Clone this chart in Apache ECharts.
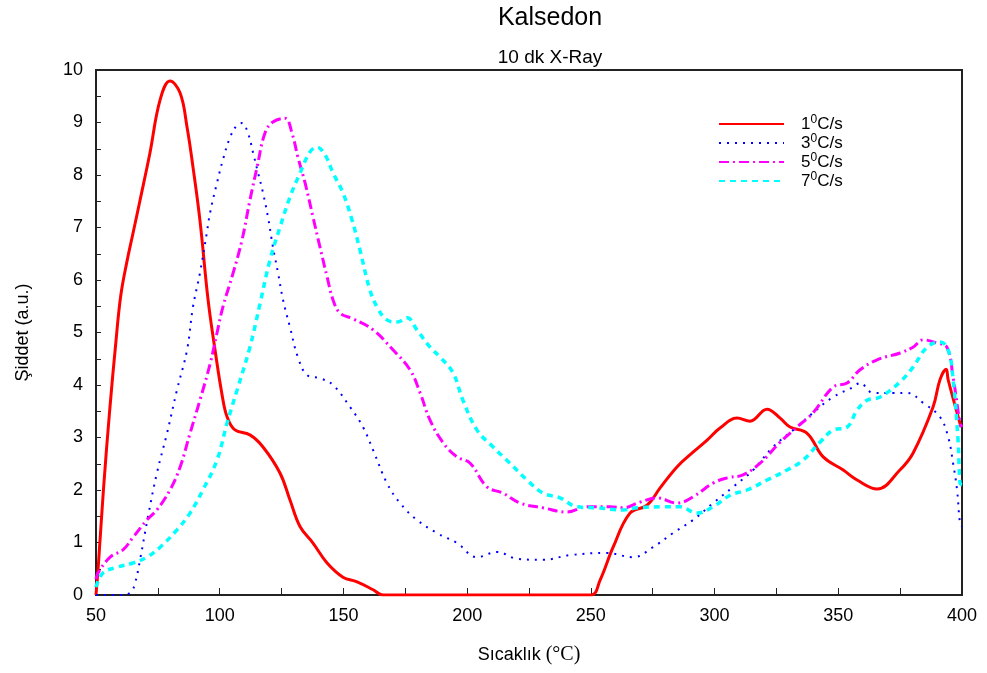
<!DOCTYPE html>
<html><head><meta charset="utf-8">
<script src="https://cdn.jsdelivr.net/npm/echarts@6/dist/echarts.min.js"></script>
<style>html,body{margin:0;padding:0;background:#fff}#c{width:987px;height:673px}</style>
</head><body><div id="c"></div>
<script>
const xTicks = [50,100,150,200,250,300,350,400];
const yTicks = [0,1,2,3,4,5,6,7,8,9,10];
const seriesNames = ['1°C/s','3°C/s','5°C/s','7°C/s'];

const T1 = [50,51,53,55.5,58,60,62.5,65,67.8,71.8,75.9,79.9,84,86.8,89.2,92,95.3,98.1,101,103,106,112.2,117.5,124.4,128.4,132.5,137.7,143.4,149.8,155.5,162,166,200,250,253.7,259,265.8,272.7,278,284.8,291.3,297,302.2,309.1,314.3,321.2,326.5,330.5,337.4,343.9,352,357.6,365.7,374.9,380.2,388.3,391.1,393.6,394.4,399.6];
const V1 = [0,0.6,2.0,3.5,4.8,5.7,6.35,6.9,7.52,8.42,9.43,9.79,9.56,8.91,8.15,7.14,5.62,4.67,3.8,3.39,3.15,3.05,2.82,2.32,1.81,1.30,0.99,0.61,0.34,0.25,0.1,0.0,0,0,0.28,0.91,1.56,1.71,2.04,2.44,2.72,2.95,3.18,3.37,3.31,3.54,3.37,3.2,3.08,2.63,2.38,2.19,2.02,2.38,2.7,3.58,4.1,4.3,4.1,3.2];

const T2 = [50,60,64,65.8,67.8,71,74.6,78.7,82.7,86.8,89.2,92,94.8,96.1,98.9,101.3,104.2,107,109,111.4,113.5,115.5,117.5,119.5,121.5,123.6,125.6,128.4,131.6,135.3,140.5,145.8,152.7,157.9,162,167.6,172.9,179.7,187.8,195.9,204,212.1,220.2,230.7,241.6,256.5,267,275.1,283.2,291.3,299.4,307.5,315.6,323.6,331.7,339.8,347.9,356,358.8,364,372.2,377.8,384.3,391.1,394.4,396.4,398,399.2,400];
const V2 = [0,0,0.05,0.23,0.67,1.49,2.32,3.08,3.9,4.67,5.49,6.13,6.9,7.28,7.85,8.29,8.72,8.95,8.99,8.8,8.42,8.04,7.66,7.2,6.63,6.13,5.62,5.1,4.53,4.19,4.13,4.0,3.58,3.2,2.76,2.13,1.75,1.43,1.18,0.99,0.72,0.82,0.69,0.67,0.76,0.8,0.72,0.91,1.18,1.43,1.75,2.06,2.38,2.82,3.14,3.47,3.77,3.96,4.04,3.85,3.85,3.85,3.66,3.39,3.01,2.51,2.0,1.37,1.3];

const T3 = [50,50.8,55.7,60.9,65,70.6,74.6,79.9,84,88,92,96.1,98.9,101.3,105.4,109,112.2,115.1,118.3,121.5,126.4,129.2,131.6,134.5,137.7,140.5,143.4,145.8,148.6,153.9,162,170,176.9,181,185,190.3,195.9,201.2,208,214.5,221.4,230.7,240.4,248.5,257.8,263,269.9,276.8,284.8,291.3,299.4,305.1,311.5,318.4,326.5,333.3,339.8,347.9,353.6,358.8,365.7,375,380.2,384.3,389.9,393.9,396.4,399.2,400];
const V3 = [0.3,0.42,0.72,0.86,1.1,1.43,1.62,2.0,2.44,3.08,3.71,4.4,4.99,5.49,6.13,6.76,7.52,8.15,8.8,9.01,9.08,8.8,8.34,7.85,7.2,6.63,6.06,5.62,5.37,5.26,5.05,4.67,4.29,3.85,3.33,2.9,2.63,2.51,2.06,1.94,1.75,1.66,1.58,1.68,1.68,1.66,1.77,1.85,1.75,1.87,2.13,2.23,2.29,2.51,2.91,3.2,3.47,3.96,4.04,4.29,4.48,4.61,4.72,4.86,4.8,4.72,4.15,3.28,3.2];

const T4 = [50,52.8,58.5,65,70.6,75.9,82.7,88,93.2,98.9,103,107,112.2,116.3,120.3,124.4,128.4,132.5,136.5,139.3,142.6,145.8,149.8,153.5,156.7,160.7,164,167.6,171.7,175.7,179.7,185,189.1,194.3,198.3,204,210.5,217.3,224.2,230.7,237.5,244.4,252.5,263,268.7,279.2,286,292.9,299.4,306.3,313.1,321.2,329.3,335.8,342.6,347.9,353.6,357.6,361.6,366.9,375,380.2,385.9,391.1,394.4,396.4,398.4,399.2,400];
const V4 = [0.15,0.42,0.53,0.61,0.72,0.91,1.24,1.56,2.0,2.57,3.28,3.9,4.72,5.55,6.38,7.01,7.58,8.04,8.44,8.53,8.38,8.04,7.66,7.14,6.57,5.81,5.45,5.24,5.2,5.28,5.05,4.72,4.53,4.23,3.71,3.14,2.82,2.51,2.19,1.94,1.85,1.68,1.66,1.62,1.66,1.68,1.68,1.56,1.68,1.9,2.0,2.19,2.38,2.57,2.91,3.14,3.2,3.52,3.71,3.77,4.06,4.34,4.72,4.82,4.67,4.1,2.95,2.13,2.1];

const pair = (t, v) => t.map((x, i) => [x, v[i]]);
const FONT = 'Liberation Sans, Arial, sans-serif';
const SERIF = 'Liberation Serif, Times New Roman, serif';

const styles = [
  {color:'#ff0000', width:3, type:'solid'},
  {color:'#0000ff', width:2, type:[2,6]},
  {color:'#ff00ff', width:3, type:[10,4,2,4]},
  {color:'#00ffff', width:3.5, type:[6,5]}
];
const datas = [pair(T1,V1), pair(T2,V2), pair(T3,V3), pair(T4,V4)];

const chart = echarts.init(document.getElementById('c'), null, {renderer:'canvas'});
chart.setOption({
  backgroundColor:'#fff',
  animation:false,
  title:[
    {text:'Kalsedon', left:545, top:1, textAlign:'center',
     textStyle:{fontFamily:FONT, fontSize:25, fontWeight:'normal', color:'#000'}},
    {text:'10 dk X-Ray', left:545, top:43, textAlign:'center',
     textStyle:{fontFamily:FONT, fontSize:19, fontWeight:'normal', color:'#000'}}
  ],
  legend:{
    left:713, top:109, orient:'vertical', itemWidth:65, itemHeight:14, itemGap:-1,
    data:seriesNames,
    itemStyle:{opacity:0},
    formatter: n => n.replace('°', '{s|0}'),
    textStyle:{fontFamily:FONT, fontSize:17, color:'#000', padding:[0,0,0,12], lineHeight:18,
      rich:{s:{fontFamily:FONT, fontSize:12, color:'#000', padding:[0,0,8,0], lineHeight:18}}}
  },
  grid:{left:96, right:25, top:70, bottom:78, show:true, borderColor:'#222', borderWidth:2, backgroundColor:'transparent'},
  xAxis:{
    type:'value', min:xTicks[0], max:xTicks[xTicks.length-1], interval:25,
    name:'{a|Sıcaklık }{b|(°C)}', nameLocation:'middle', nameGap:50,
    nameTextStyle:{color:'#000',
      rich:{a:{fontFamily:FONT, fontSize:18, color:'#000'}, b:{fontFamily:SERIF, fontSize:20, color:'#000'}}},
    axisLine:{lineStyle:{color:'#222', width:2}},
    axisTick:{inside:true, length:7, lineStyle:{color:'#222'}},
    axisLabel:{fontFamily:FONT, fontSize:18, color:'#000', margin:12,
      formatter: v => xTicks.includes(v) ? String(v) : ''},
    splitLine:{show:false}
  },
  yAxis:{
    type:'value', min:yTicks[0], max:yTicks[yTicks.length-1], interval:0.5,
    name:'Şiddet (a.u.)', nameLocation:'middle', nameGap:64,
    nameTextStyle:{fontFamily:FONT, fontSize:18, color:'#000'},
    axisLine:{lineStyle:{color:'#222', width:2}},
    axisTick:{inside:true, length:5, lineStyle:{color:'#222'}},
    axisLabel:{fontFamily:FONT, fontSize:18, color:'#000', margin:13,
      formatter: v => yTicks.includes(v) ? String(v) : ''},
    splitLine:{show:false}
  },
  series: seriesNames.map((n, i) => ({
    name:n, type:'line', data:datas[i], symbol:'none', showSymbol:false,
    smooth:0.4, clip:true,
    itemStyle:{color:styles[i].color},
    lineStyle:{color:styles[i].color, width:styles[i].width, type:styles[i].type, cap:'butt'}
  }))
});
</script></body></html>
